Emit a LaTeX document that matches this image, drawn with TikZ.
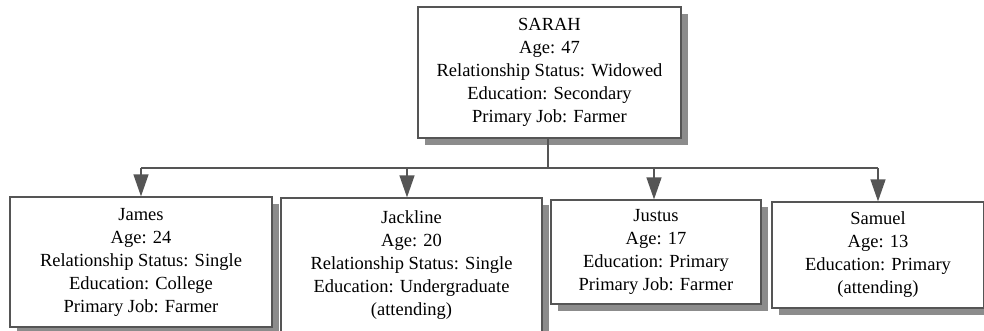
\documentclass[tikz,border=0pt]{standalone}
\usepackage{fontspec}
\setmainfont{Liberation Serif}
\newfontfamily\boxfont{Liberation Serif}
\usetikzlibrary{arrows.meta,shadows,calc}
\definecolor{boxline}{HTML}{555555}
\definecolor{shadowgray}{HTML}{8C8C8C}
\definecolor{linkgray}{HTML}{555555}
\begin{document}
\begin{tikzpicture}[x=1pt,y=-1pt,
  person/.style={draw=boxline, line width=1.3pt, fill=white, align=center,
    inner sep=0pt, font=\boxfont\fontsize{18.5}{23}\selectfont,
    drop shadow={shadow xshift=7pt, shadow yshift=-7pt, fill=shadowgray, opacity=1}},
  link/.style={draw=linkgray, line width=1.3pt},
  down/.style={link, -{Triangle[width=15pt,length=22pt,fill=linkgray]}}]
\clip (0,0) rectangle (984,330);
\fill[white] (0,0) rectangle (984,330);

% parent
\node[person, minimum width=263pt, minimum height=131pt] (sarah) at (549.5,72.5)
  {SARAH\\Age: 47\\Relationship Status: Widowed\\Education: Secondary\\Primary Job: Farmer};

% children
\node[person, minimum width=262pt, minimum height=130pt] (james) at (141,262)
  {James\\Age: 24\\Relationship Status: Single\\Education: College\\Primary Job: Farmer};
\node[person, minimum width=261pt, minimum height=134pt] (jackline) at (411.5,265)
  {Jackline\\Age: 20\\Relationship Status: Single\\Education: Undergraduate\\(attending)};
\node[person, minimum width=210pt, minimum height=104pt] (justus) at (656,252)
  {Justus\\Age: 17\\Education: Primary\\Primary Job: Farmer};
\node[person, minimum width=212pt, minimum height=106pt] (samuel) at (878,255)
  {Samuel\\Age: 13\\Education: Primary\\(attending)};

% connectors
\coordinate (bus) at (548,168);
\coordinate (jtop) at ($(jackline.north)+(-4.5,0)$);
\coordinate (stop) at ($(justus.north)+(-2,0)$);
\draw[link] (sarah.south -| bus) -- (bus);
\draw[link] (james.north |- bus) -- (samuel.north |- bus);
\draw[down] (james.north |- bus) -- (james.north);
\draw[down] (jtop |- bus) -- (jtop);
\draw[down] (stop |- bus) -- (stop);
\draw[down] (samuel.north |- bus) -- (samuel.north);
\end{tikzpicture}
\end{document}
